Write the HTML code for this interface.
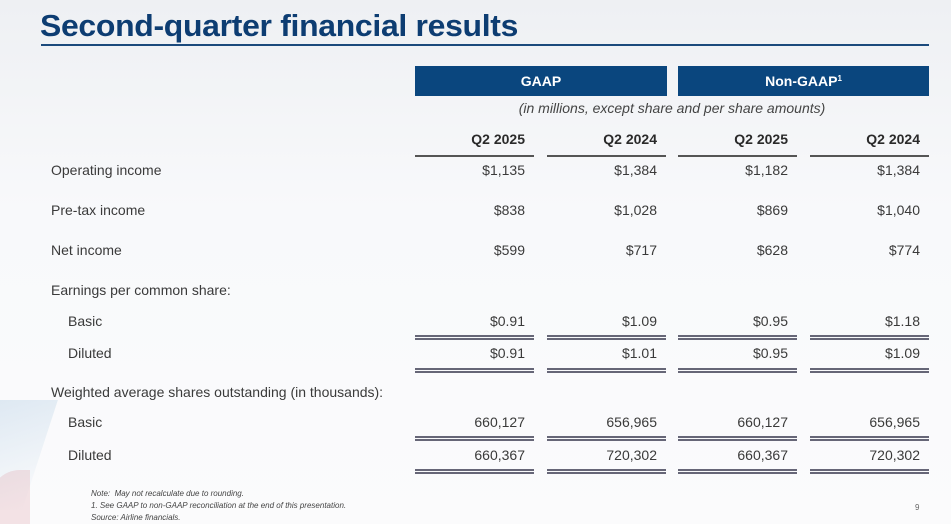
<!DOCTYPE html>
<html><head><style>
html,body{margin:0;width:951px;height:524px;overflow:hidden}
body{background:linear-gradient(180deg,#eef0f3 0%,#f8f9fb 40%,#fbfbfc 100%);font-family:"Liberation Sans",sans-serif;position:relative;color:#3a3a3a}
.a{position:absolute;white-space:nowrap}
.t{left:40px;top:8px;font-size:31px;font-weight:bold;color:#0d3d72;letter-spacing:-0.3px;transform:scaleX(1.03);transform-origin:left}
.rule{left:41px;top:44px;width:888px;height:2px;background:#1b4a7c}
.box{top:66px;height:30px;background:#0a467e;color:#fff;font-weight:bold;font-size:14px;text-align:center;line-height:30px}
.sub{left:415px;width:514px;top:100px;text-align:center;font-style:italic;font-size:14px;color:#444}
.r{text-align:right;font-size:14px}
.h{font-weight:bold;color:#2a2a2a}
.l{font-size:14px}
.u{height:2px;background:#555;width:119px}
.d{height:5px;border-top:2px solid #667;border-bottom:2px solid #667;box-sizing:border-box;width:119px}
.n{left:91px;font-size:8px;font-style:italic;color:#444}
</style></head><body>
<div style="position:absolute;left:-20px;top:400px;width:60px;height:110px;background:linear-gradient(160deg,rgba(170,200,225,.35),rgba(170,200,225,0));transform:skewX(-18deg)"></div>
<div style="position:absolute;left:-10px;top:470px;width:40px;height:60px;border-radius:30px 0 0 0;background:rgba(220,150,160,.25)"></div>
<div class="a t">Second-quarter financial results</div>
<div class="a rule"></div>
<div class="a box" style="left:415px;width:252px">GAAP</div>
<div class="a box" style="left:678px;width:251px">Non-GAAP<span style="font-size:8px;position:relative;top:-5px">1</span></div>
<div class="a sub">(in millions, except share and per share amounts)</div>
<div id="g"></div>
<div class="a n" style="top:489px">Note:&nbsp; May not recalculate due to rounding.</div>
<div class="a n" style="top:501px">1. See GAAP to non-GAAP reconciliation at the end of this presentation.</div>
<div class="a n" style="top:513px">Source: Airline financials.</div>
<div class="a" style="left:915px;top:503px;font-size:8px;color:#666">9</div>
<script>
var L=[415,547,678,810],h='';
function row(y,vals,cls){vals.forEach(function(v,i){h+='<div class="a r '+(cls||'')+'" style="left:'+(L[i]-15)+'px;top:'+(y-9)+'px;width:125px">'+v+'</div>';});}
function lab(y,t,x){h+='<div class="a l" style="left:'+x+'px;top:'+(y-9)+'px">'+t+'</div>';}
function dbl(y){L.forEach(function(x){h+='<div class="a d" style="left:'+x+'px;top:'+y+'px"></div>';});}
row(140,['Q2 2025','Q2 2024','Q2 2025','Q2 2024'],'h');
L.forEach(function(x){h+='<div class="a u" style="left:'+x+'px;top:155px"></div>';});
lab(171,'Operating income',51);row(171,['$1,135','$1,384','$1,182','$1,384']);
lab(211,'Pre-tax income',51);row(211,['$838','$1,028','$869','$1,040']);
lab(251,'Net income',51);row(251,['$599','$717','$628','$774']);
lab(291,'Earnings per common share:',51);
lab(322,'Basic',68);row(322,['$0.91','$1.09','$0.95','$1.18']);dbl(335);
lab(354,'Diluted',68);row(354,['$0.91','$1.01','$0.95','$1.09']);dbl(368);
lab(393,'Weighted average shares outstanding (in thousands):',51);
lab(423,'Basic',68);row(423,['660,127','656,965','660,127','656,965']);dbl(436);
lab(456,'Diluted',68);row(456,['660,367','720,302','660,367','720,302']);dbl(469);
document.getElementById('g').innerHTML=h;
</script>
</body></html>
